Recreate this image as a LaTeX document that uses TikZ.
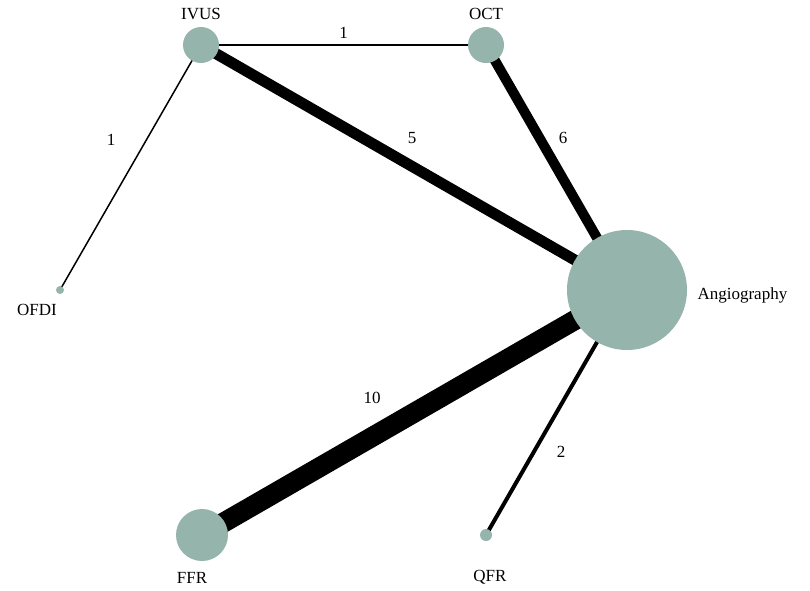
\documentclass[tikz,border=0pt]{standalone}
\usepackage{fontspec}
\setmainfont{Liberation Serif}
\usetikzlibrary{backgrounds}
\definecolor{nodegreen}{HTML}{95B4AC}

\tikzset{
  trt/.style={circle,fill=nodegreen,inner sep=0pt,minimum size=#1},
  lbl/.style={font=\fontsize{17}{17}\selectfont},
  link/.style={line width=#1,black}
}

\begin{document}
\begin{tikzpicture}[x=1pt,y=-1pt]
        \useasboundingbox (0,0) rectangle (810,590);
        % treatments
        \node[trt=36pt] (IVUS) at (201,45) {};
        \node[trt=36pt] (OCT) at (486,45) {};
        \node[trt=8pt] (OFDI) at (60,290) {};
        \node[trt=120pt] (Angio) at (627,290) {};
        \node[trt=52pt] (FFR) at (202,535) {};
        \node[trt=12pt] (QFR) at (486,535) {};
        % names
        \node[lbl] (tIVUS) at (201,14) {IVUS};
        \node[lbl] (tOCT) at (486,14) {OCT};
        \node[lbl] (tOFDI) at (37,310) {OFDI};
        \node[lbl,anchor=west] (tAngio) at (694,295) {Angiography};
        \node[lbl] (tFFR) at (192,578) {FFR};
        \node[lbl] (tQFR) at (490,577) {QFR};
        % comparisons
        \begin{pgfonlayer}{background}
        \draw[link=1.5pt] (IVUS.center) -- node[lbl,above=2pt] {1} (OCT.center);
        \draw[link=1.5pt] (IVUS.center) -- (OFDI.center);
        \draw[link=11pt] (IVUS.center) -- (Angio.center);
        \draw[link=10pt] (OCT.center) -- (Angio.center);
        \draw[link=20pt] (FFR.center) -- (Angio.center);
        \draw[link=4pt] (QFR.center) -- (Angio.center);
        \end{pgfonlayer}
        \node[lbl] (n1) at (111,140) {1};
        \node[lbl] (n5) at (412,138) {5};
        \node[lbl] (n6) at (563,138) {6};
        \node[lbl] (n10) at (372,398) {10};
        \node[lbl] (n2) at (561,452) {2};
    \end{tikzpicture}
\end{document}
